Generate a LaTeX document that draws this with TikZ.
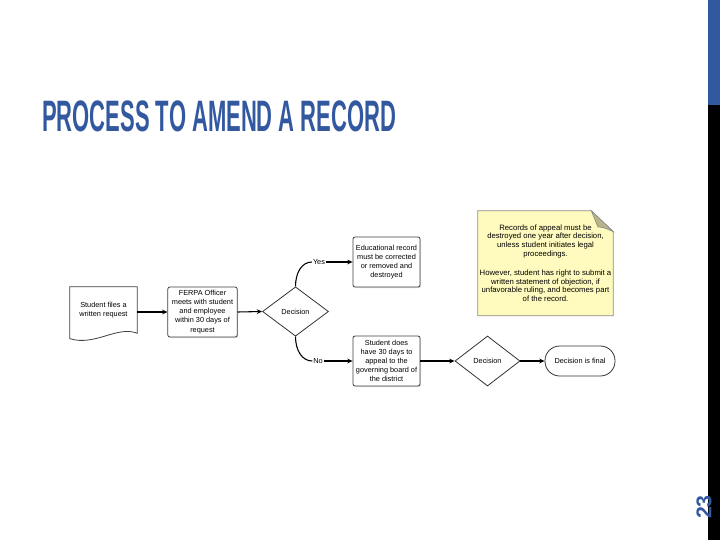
\documentclass[tikz,border=0pt]{standalone}
\usepackage{fontspec}
\setmainfont{Liberation Sans}
\usepackage{graphicx}
\usepackage{tikz}
\usetikzlibrary{shapes.geometric,arrows.meta,positioning,backgrounds,shadows}
\usepackage{xcolor}
\definecolor{slideblue}{RGB}{50,88,160}
\definecolor{notebg}{RGB}{255,251,190}
\definecolor{notefold}{RGB}{185,180,135}
\newcommand{\tinyfont}{\fontsize{5.5}{6.8}\selectfont}
\tikzset{
  fbox/.style={rectangle, draw=black!75, fill=white, line width=0.6pt,
               rounded corners=1.5pt, minimum width=50.25pt, minimum height=37.5pt,
               align=center, inner sep=1pt, font=\tinyfont,
               drop shadow={shadow xshift=0.8pt, shadow yshift=-0.8pt, opacity=0.25}},
  dbox/.style={diamond, draw=black!80, fill=white, line width=0.6pt,
               minimum width=49.5pt, minimum height=37pt, aspect=1.34,
               inner sep=0pt, font=\tinyfont},
  tbox/.style={rectangle, draw=black!80, fill=white, line width=0.6pt,
               rounded corners=11pt, minimum width=52.5pt, minimum height=22.5pt,
               font=\tinyfont},
  lbl/.style={fill=white, inner sep=0.6pt, font=\tinyfont},
  arr/.style={-{Stealth[length=4pt,width=3.5pt]}, line width=0.8pt},
  edge/.style={line width=0.8pt},
}

\begin{document}
\begin{tikzpicture}[x=0.75pt, y=-0.75pt]
  \useasboundingbox (0,0) rectangle (720,540);
  % slide frame
  \fill[slideblue] (708,0) rectangle (720,105);
  \fill[black] (708,105) rectangle (720,540);
  \node[rotate=90, text=slideblue, font=\fontsize{16}{16}\selectfont\bfseries] (pnum) at (704,507) {23};
  \node[anchor=west, inner sep=0pt, text=slideblue,
        font=\fontsize{33}{33}\selectfont\bfseries] (title) at (42,116)
        {\scalebox{0.5}[1]{PROCESS TO AMEND A RECORD}};

  % flow
  \node[align=center, font=\tinyfont, minimum width=50.25pt, minimum height=34.5pt] (req) at (103.5,310) {Student files a\\written request};
  \node[fbox, minimum width=52pt] (ferpa) at (202.5,312) {FERPA Officer\\meets with student\\and employee\\within 30 days of\\request};
  \node[dbox] (dec1) at (295.5,311.5) {Decision};
  \node[fbox] (erec) at (386.5,262) {Educational record\\must be corrected\\or removed and\\destroyed};
  \node[fbox] (appeal) at (386.5,361) {Student does\\have 30 days to\\appeal to the\\governing board of\\the district};
  \node[dbox, minimum width=48.75pt, minimum height=37.5pt] (dec2) at (487.5,361) {Decision};
  \node[tbox] (final) at (580,361) {Decision is final};
  \node[lbl] (yes) at (319,262) {Yes};
  \node[lbl] (no) at (318,361) {No};
  \node[align=center, font=\fontsize{5.8}{6.5}\selectfont, minimum width=101.25pt, minimum height=78.75pt, inner sep=0pt] (note) at (545.5,263)
    {Records of appeal must be\\destroyed one year after decision,\\unless student initiates legal\\proceedings.\\[8pt]However, student has right to submit a\\written statement of objection, if\\unfavorable ruling, and becomes part\\of the record.};

  \begin{scope}[on background layer]
    \draw[black!75, line width=0.6pt, fill=white] (req.north west) -- (req.north east) -- (req.south east)
      .. controls +(-20,-8) and +(25,8) .. ([yshift=-4pt]req.south west) -- cycle;
    \filldraw[fill=notebg, draw=black!45, line width=0.5pt] ([yshift=-0.4pt]note.north west) -- ([xshift=-16.5pt,yshift=-0.4pt]note.north east)
      -- ([yshift=-16pt]note.north east) -- (note.south east) -- (note.south west) -- cycle;
    \filldraw[fill=notefold, draw=black!45, line width=0.5pt] ([xshift=-16.5pt,yshift=-0.4pt]note.north east)
      .. controls ([xshift=-14pt,yshift=-7pt]note.north east) .. ([xshift=-11.5pt,yshift=-12.5pt]note.north east)
      .. controls ([xshift=-7pt,yshift=-13pt]note.north east) .. ([yshift=-16pt]note.north east) -- cycle;
  \end{scope}

  \draw[arr] (req.east |- ferpa.west) -- (ferpa.west);
  \draw[arr] (ferpa.east) -- (dec1.west);
  \draw[edge] (dec1.north) .. controls +(0,-14) and +(-10,0) .. (yes.west);
  \draw[arr] (yes.east) -- (erec.west);
  \draw[edge] (dec1.south) .. controls +(0,14) and +(-10,0) .. (no.west);
  \draw[arr] (no.east) -- (appeal.west);
  \draw[arr] (appeal.east) -- (dec2.west);
  \draw[arr] (dec2.east) -- (final.west);
\end{tikzpicture}
\end{document}
